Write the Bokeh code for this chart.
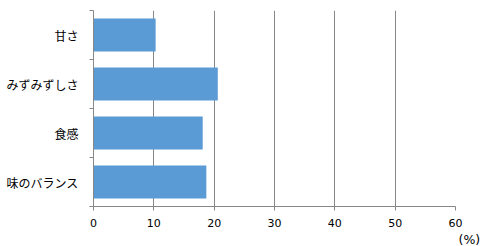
from bokeh.plotting import figure
from bokeh.models import FixedTicker, Range1d, Title
from bokeh.embed import file_html
from bokeh.resources import INLINE

categories = ["甘さ", "みずみずしさ", "食感", "味のバランス"]
values = [10.3, 20.6, 18.1, 18.7]
x_ticks = [0, 10, 20, 30, 40, 50, 60]
unit_label = "(%)"

n = len(categories)
ypos = [n - i - 0.5 for i in range(n)]

p = figure(width=480, height=246, output_backend="svg", toolbar_location=None,
           x_range=Range1d(0, 60), y_range=Range1d(0, n),
           min_border_left=93, min_border_right=25, min_border_top=10, min_border_bottom=39)
p.outline_line_color = None
p.background_fill_color = "white"
p.border_fill_color = "white"

p.hbar(y=ypos, right=values, left=0, height=0.67, color="#5B9BD5", line_color=None)

gc = "#878787"
p.xaxis.ticker = FixedTicker(ticks=x_ticks)
p.xaxis.axis_line_color = gc
p.xaxis.major_tick_line_color = gc
p.xaxis.major_tick_in = 0
p.xaxis.major_tick_out = 4
p.xaxis.minor_tick_line_color = None
p.xaxis.major_label_text_font = "DejaVu Sans"
p.xaxis.major_label_text_font_size = "11px"
p.xaxis.major_label_text_color = "#000000"
p.xaxis.major_label_standoff = 8

p.yaxis.ticker = FixedTicker(ticks=ypos, minor_ticks=list(range(n + 1)))
p.yaxis.major_label_overrides = {y: c for y, c in zip(ypos, categories)}
p.yaxis.axis_line_color = gc
p.yaxis.major_tick_line_color = None
p.yaxis.major_tick_in = 0
p.yaxis.major_tick_out = 0
p.yaxis.minor_tick_line_color = gc
p.yaxis.minor_tick_in = 0
p.yaxis.minor_tick_out = 4
p.yaxis.major_label_text_font = "Noto Sans CJK JP"
p.yaxis.major_label_text_font_size = "12px"
p.yaxis.major_label_text_color = "#000000"
p.yaxis.major_label_standoff = 11

p.xgrid.ticker = FixedTicker(ticks=x_ticks[1:])
p.xgrid.grid_line_color = gc
p.xgrid.grid_line_width = 1
p.ygrid.grid_line_color = None

p.add_layout(Title(text=unit_label, align="left", offset=365, standoff=0,
                   text_font="DejaVu Sans", text_font_size="12.5px",
                   text_font_style="normal", text_color="#000000"), "below")

open("out.html", "w").write(file_html(p, INLINE))
